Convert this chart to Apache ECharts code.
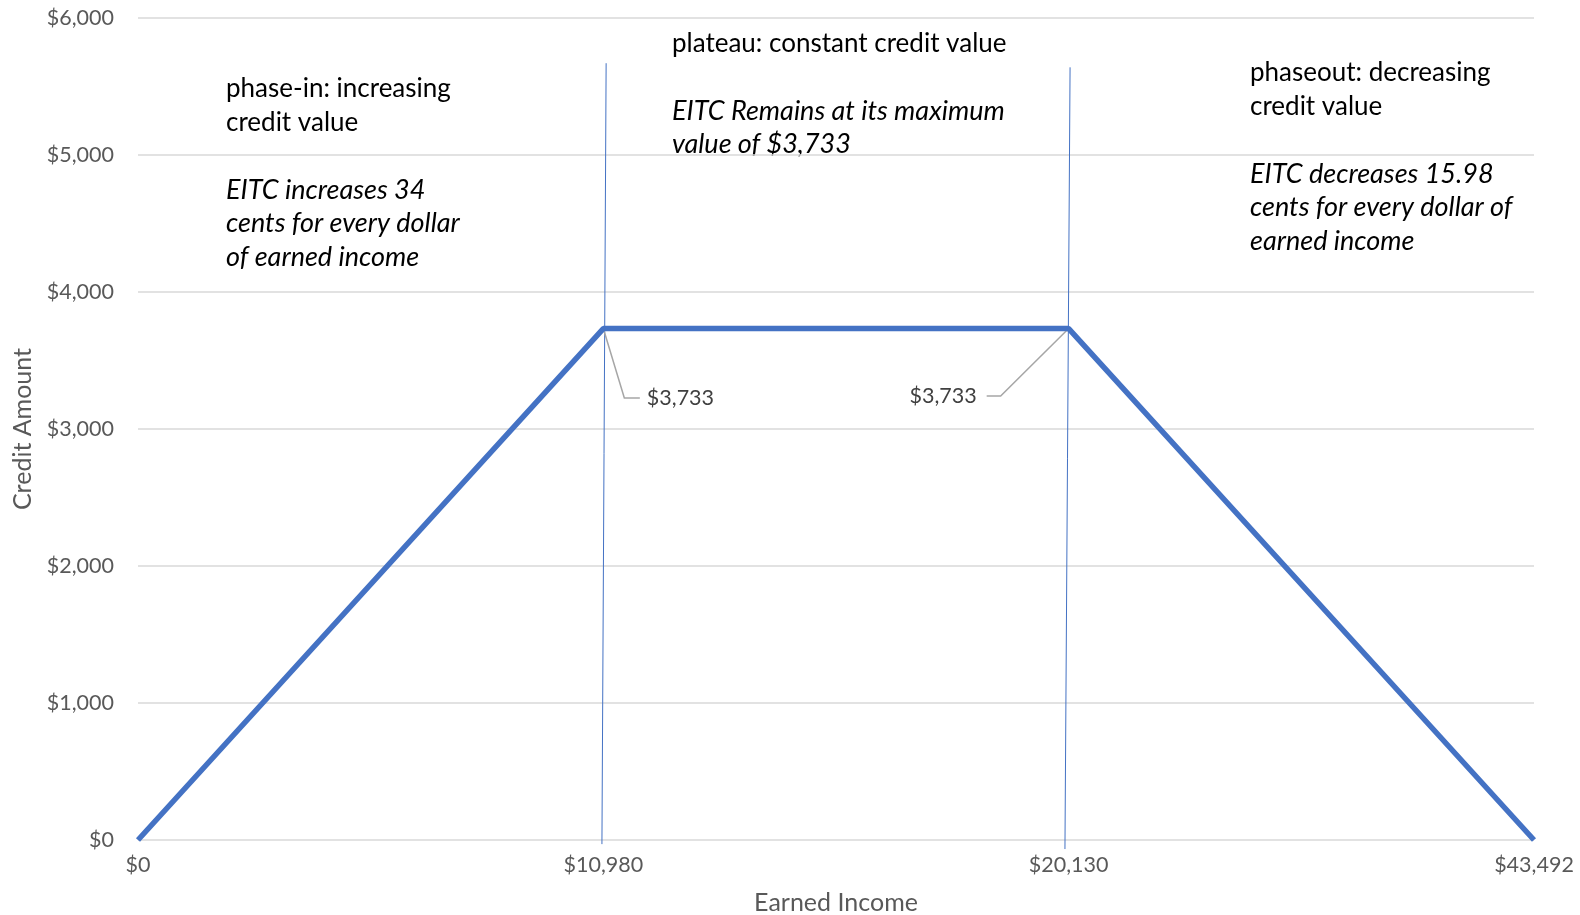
<!DOCTYPE html>
<html>
<head>
<meta charset="utf-8">
<script src="https://cdn.jsdelivr.net/npm/echarts@6/dist/echarts.min.js"></script>
<style>
html,body{margin:0;padding:0;background:#fff;}
#main{width:1580px;height:915px;}
</style>
</head>
<body>
<div id="main"></div>
<script>
var incomeLabels = ['$0', '$10,980', '$20,130', '$43,492'];
var creditValues = [0, 3733, 3733, 0];
var yTicks = [0, 1000, 2000, 3000, 4000, 5000, 6000];
var divider1 = [[1.006, 5670], [0.997, -30]];
var divider2 = [[2.003, 5640], [1.992, -66]];
var labeledIdx = [1, 2];
var phaseTexts = [
  { head: 'phase-in: increasing\ncredit value', body: 'EITC increases 34\ncents for every dollar\nof earned income' },
  { head: 'plateau: constant credit value', body: 'EITC Remains at its maximum\nvalue of $3,733' },
  { head: 'phaseout: decreasing\ncredit value', body: 'EITC decreases 15.98\ncents for every dollar of\nearned income' }
];

var FONT = 'Lato';
function fmt(v){ return '$' + v.toLocaleString('en-US'); }

var chart = echarts.init(document.getElementById('main'), null, {renderer:'canvas'});

var textStyleHead = { fontFamily: FONT, fontSize: 26, fill: '#000', lineHeight: 33.6 };
var textStyleBody = { fontFamily: FONT, fontSize: 27, fontStyle: 'italic', fill: '#000', lineHeight: 33.6 };

function dividerSeries(pts) {
  return {
    type: 'line',
    xAxisIndex: 1,
    data: pts,
    clip: false,
    symbol: 'none',
    silent: true,
    z: 1,
    lineStyle: { color: '#4472C4', width: 1 }
  };
}

// leader-line geometry (pixel offsets from the data point), one per labelled point
var leaderStyle = [
  { bend: [21, 69.5], end: [36.5, 69.5], text: [43.5, 69.5], align: 'left' },
  { bend: [-68, 67.5], end: [-82, 67.5], text: [-92, 67.5], align: 'right' }
];

var option = {
  backgroundColor: '#fff',
  animation: false,
  grid: { left: 138, right: 46, top: 18, bottom: 75, containLabel: false, outerBoundsMode: 'none' },
  xAxis: [{
    type: 'category',
    data: incomeLabels,
    boundaryGap: false,
    name: 'Earned Income',
    nameLocation: 'middle',
    nameGap: 50,
    nameTextStyle: { fontFamily: FONT, fontSize: 25, color: '#595959' },
    axisLine: { show: false },
    axisTick: { show: false },
    axisLabel: { fontFamily: FONT, fontSize: 21.5, color: '#595959', margin: 14 },
    splitLine: { show: false }
  }, {
    type: 'value',
    min: 0,
    max: incomeLabels.length - 1,
    show: false
  }],
  yAxis: {
    type: 'value',
    min: yTicks[0],
    max: yTicks[yTicks.length - 1],
    interval: 1000,
    name: 'Credit Amount',
    nameLocation: 'middle',
    nameGap: 93,
    nameRotate: 90,
    nameTextStyle: { fontFamily: FONT, fontSize: 25, color: '#595959' },
    axisLine: { show: false },
    axisTick: { show: false },
    axisLabel: { fontFamily: FONT, fontSize: 21.5, color: '#595959', margin: 24, formatter: fmt },
    splitLine: { lineStyle: { color: '#d9d9d9', width: 1.5 } }
  },
  series: [dividerSeries(divider1), dividerSeries(divider2), {
    type: 'line',
    data: creditValues,
    clip: false,
    symbol: 'none',
    z: 3,
    lineStyle: { color: '#4472C4', width: 5.5 }
  }, {
    type: 'custom',
    clip: false,
    silent: true,
    z: 2,
    data: labeledIdx.map(function (i) { return [i, creditValues[i]]; }),
    renderItem: function (params, api) {
      var p = api.coord([api.value(0), api.value(1)]);
      var s = leaderStyle[params.dataIndex];
      return {
        type: 'group',
        children: [{
          type: 'polyline',
          shape: { points: [p, [p[0] + s.bend[0], p[1] + s.bend[1]], [p[0] + s.end[0], p[1] + s.end[1]]] },
          style: { stroke: '#a6a6a6', lineWidth: 1.5, fill: null }
        }, {
          type: 'text',
          x: p[0] + s.text[0],
          y: p[1] + s.text[1],
          style: {
            text: fmt(api.value(1)),
            fontFamily: FONT, fontSize: 21.5, fill: '#404040',
            align: s.align, verticalAlign: 'middle'
          }
        }]
      };
    }
  }],
  graphic: [
    { type: 'text', left: 226, top: 72, style: Object.assign({ text: phaseTexts[0].head }, textStyleHead) },
    { type: 'text', left: 226, top: 173, style: Object.assign({ text: phaseTexts[0].body }, textStyleBody) },
    { type: 'text', left: 672, top: 27, style: Object.assign({ text: phaseTexts[1].head }, textStyleHead) },
    { type: 'text', left: 672, top: 94, style: Object.assign({ text: phaseTexts[1].body }, textStyleBody) },
    { type: 'text', left: 1250, top: 56, style: Object.assign({ text: phaseTexts[2].head }, textStyleHead) },
    { type: 'text', left: 1250, top: 157, style: Object.assign({ text: phaseTexts[2].body }, textStyleBody) }
  ]
};
chart.setOption(option);
</script>
</body>
</html>
